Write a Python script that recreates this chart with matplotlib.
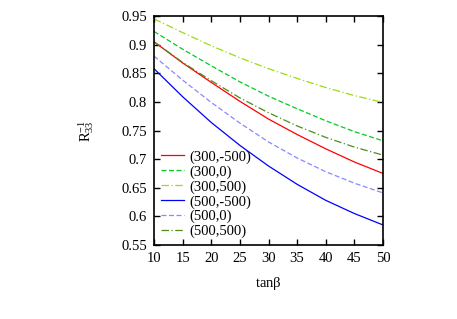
import matplotlib
matplotlib.use("Agg")
import matplotlib.pyplot as plt

plt.rcParams['font.family'] = ['Liberation Serif', 'DejaVu Serif']
plt.rcParams['mathtext.fontset'] = 'custom'
plt.rcParams['mathtext.rm'] = 'Liberation Serif'
plt.rcParams['mathtext.it'] = 'Liberation Serif'

tanb = [10, 15, 20, 25, 30, 35, 40, 45, 50]

r_300_m500 = [0.905, 0.868, 0.834, 0.801, 0.770, 0.743, 0.718, 0.695, 0.675]
r_300_0 = [0.923, 0.892, 0.863, 0.835, 0.810, 0.788, 0.767, 0.748, 0.732]
r_300_500 = [0.945, 0.921, 0.898, 0.877, 0.858, 0.841, 0.825, 0.811, 0.799]
r_500_m500 = [0.858, 0.809, 0.764, 0.724, 0.688, 0.656, 0.628, 0.605, 0.585]
r_500_0 = [0.880, 0.838, 0.799, 0.763, 0.730, 0.702, 0.678, 0.658, 0.641]
r_500_500 = [0.905, 0.869, 0.837, 0.807, 0.781, 0.758, 0.738, 0.721, 0.707]

labels = ["(300,-500)", "(300,0)", "(300,500)", "(500,-500)", "(500,0)", "(500,500)"]
series = [r_300_m500, r_300_0, r_300_500, r_500_m500, r_500_0, r_500_500]
colors = ["#ff0000", "#00cc22", "#99dd11", "#0000ff", "#8888ff", "#4e8c1e"]
styles = ["-", (0, (4, 2)), (0, (6, 2, 1, 2)), "-", (0, (4, 2)), (0, (6, 2, 1, 2))]

fig = plt.figure(figsize=(4.57, 3.19), dpi=100)
ax = fig.add_axes([154/457, (319-245)/319, (383-154)/457, (245-16)/319])

for ys, lab, c, ls in zip(series, labels, colors, styles):
    ax.plot(tanb, ys, color=c, linestyle=ls, linewidth=0.9, label=lab)

ax.set_xlim(10, 50)
ax.set_ylim(0.55, 0.95)
ax.set_xticks(range(10, 51, 5))
ax.set_yticks([0.55, 0.6, 0.65, 0.7, 0.75, 0.8, 0.85, 0.9, 0.95])
ax.set_yticklabels(["0.55", "0.6", "0.65", "0.7", "0.75", "0.8", "0.85", "0.9", "0.95"])
ax.tick_params(direction='in', top=True, right=True, length=4, width=1,
               labelsize=10.5, pad=5)
for s in ax.spines.values():
    s.set_linewidth(1.2)

ax.set_xlabel(r"tan$\beta$", fontsize=10.5, labelpad=7)
ax.set_ylabel(r"R$^{-1}_{33}$", fontsize=10.5, labelpad=18)

ax.legend(loc='lower left', bbox_to_anchor=(0.0, 0.0), frameon=False,
          fontsize=10.5, handlelength=1.6, handletextpad=0.4,
          labelspacing=0.1, borderaxespad=0.1, borderpad=0.35)

fig.savefig("out.png", dpi=100)
